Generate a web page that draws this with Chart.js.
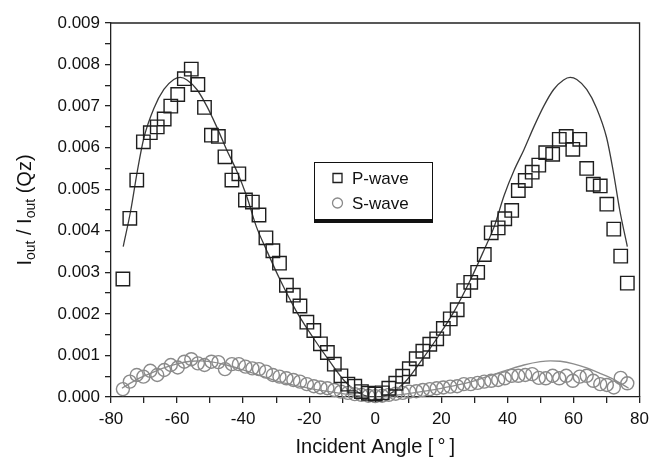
<!DOCTYPE html>
<html>
<head>
<meta charset="utf-8">
<script src="https://cdn.jsdelivr.net/npm/chart.js@4.4.1/dist/chart.umd.min.js"></script>
<style>
    html, body { margin: 0; padding: 0; background: #fff; }
    #wrap { width: 655px; height: 466px; position: relative; }
</style>
</head>
<body>
<div id="wrap"><canvas id="anguloChart"></canvas></div>
<script>
// Ángulos medidos (grados), comunes a las dos series
const angles = [
    -76.4, -74.3, -72.2, -70.2, -68.1, -66.0, -63.9, -61.9, -59.8, -57.8,
    -55.7, -53.7, -51.7, -49.6, -47.5, -45.5, -43.4, -41.3, -39.3, -37.2,
    -35.2, -33.1, -31.0, -29.0, -26.9, -24.8, -22.8, -20.7, -18.6, -16.6,
    -14.5, -12.4, -10.4, -8.3, -6.2, -4.2, -2.1, 0.0, 2.1, 4.1,
    6.2, 8.3, 10.3, 12.4, 14.4, 16.5, 18.6, 20.6, 22.7, 24.8,
    26.8, 28.9, 31.0, 33.0, 35.1, 37.2, 39.2, 41.3, 43.3, 45.4,
    47.5, 49.5, 51.6, 53.7, 55.7, 57.8, 59.8, 61.9, 64.0, 66.0,
    68.1, 70.1, 72.2, 74.3, 76.3
];

// P-wave (cuadrados)
const pWave = [
    0.00284, 0.00430, 0.00522, 0.00614, 0.00636, 0.00650, 0.00669, 0.00700, 0.00728, 0.00766,
    0.00789, 0.00752, 0.00697, 0.00630, 0.00627, 0.00578, 0.00522, 0.00537, 0.00474, 0.00469,
    0.00438, 0.00383, 0.00352, 0.00322, 0.00269, 0.00245, 0.00219, 0.00180, 0.00160, 0.00128,
    0.00107, 0.00079, 0.00051, 0.00031, 0.00026, 0.00013, 0.00009, 0.00007, 0.00010, 0.00021,
    0.00033, 0.00050, 0.00068, 0.00092, 0.00110, 0.00127, 0.00140, 0.00165, 0.00188, 0.00210,
    0.00256, 0.00276, 0.00300, 0.00343, 0.00395, 0.00407, 0.00429, 0.00449, 0.00497, 0.00521,
    0.00541, 0.00558, 0.00588, 0.00584, 0.00620, 0.00627, 0.00596, 0.00620, 0.00550, 0.00512,
    0.00508, 0.00464, 0.00404, 0.00339, 0.00274
];

// S-wave (círculos)
const sWave = [
    0.00019, 0.00037, 0.00053, 0.00049, 0.00063, 0.00053, 0.00065, 0.00077, 0.00071, 0.00085,
    0.00091, 0.00081, 0.00077, 0.00085, 0.00084, 0.00067, 0.00079, 0.00079, 0.00073, 0.00069,
    0.00067, 0.00061, 0.00053, 0.00049, 0.00045, 0.00041, 0.00037, 0.00031, 0.00026, 0.00023,
    0.00021, 0.00017, 0.00013, 0.00010, 0.00007, 0.00005, 0.00003, 0.00002, 0.00003, 0.00005,
    0.00008, 0.00010, 0.00013, 0.00014, 0.00017, 0.00019, 0.00021, 0.00023, 0.00025, 0.00026,
    0.00031, 0.00031, 0.00034, 0.00037, 0.00039, 0.00041, 0.00045, 0.00051, 0.00051, 0.00053,
    0.00055, 0.00046, 0.00045, 0.00051, 0.00045, 0.00051, 0.00039, 0.00049, 0.00051, 0.00039,
    0.00031, 0.00029, 0.00023, 0.00046, 0.00033
];

// Curva de ajuste P-wave
const pFitAngles = [
    -76.3, -74, -72, -70, -67, -64, -61, -59, -57, -54, -51, -48, -45, -42, -39, -36, -33, -29,
    -24, -19, -14, -9, -4, 0, 4, 9, 14, 19, 24, 29, 33, 36, 39, 42, 45, 48, 51, 54, 57, 59,
    61, 64, 67, 70, 72, 74, 76.3
];
const pFitValues = [
    0.00362, 0.00450, 0.00545, 0.00625, 0.00695, 0.00740, 0.00764, 0.00769, 0.00763, 0.00740,
    0.00700, 0.00650, 0.00595, 0.00545, 0.00485, 0.00410, 0.00355, 0.00285,
    0.00208, 0.00145, 0.00088, 0.00036, 0.00006, 0.00000, 0.00006, 0.00036, 0.00088, 0.00145,
    0.00208, 0.00285, 0.00355, 0.00410, 0.00485, 0.00545, 0.00595, 0.00650, 0.00700, 0.00740,
    0.00763, 0.00769, 0.00764, 0.00740, 0.00695, 0.00625, 0.00545, 0.00450, 0.00362
];

// Curva de ajuste S-wave
const sFitAngles = [
    -76.7, -72, -68, -64, -60, -56, -53, -50, -45, -40, -35, -30, -25, -20, -15, -10, -5,
    0, 5, 10, 15, 20, 25, 30, 35, 40, 45, 50, 53, 56, 60, 64, 68, 72, 76.7
];
const sFitValues = [
    0.00021, 0.00043, 0.00057, 0.00070, 0.00080, 0.00086, 0.00087, 0.00085, 0.00077, 0.00065,
    0.00052, 0.00039, 0.00029, 0.00021, 0.00014, 0.00008, 0.00003,
    0.00000, 0.00003, 0.00008, 0.00014, 0.00021, 0.00029, 0.00039, 0.00052, 0.00065, 0.00077,
    0.00085, 0.00087, 0.00086, 0.00080, 0.00070, 0.00057, 0.00043, 0.00021
];

const FONT = '"Liberation Sans", Arial, sans-serif';

function toPoints(xs, ys) {
    return xs.map((x, i) => ({ x: x, y: ys[i] }));
}

// Dibuja un texto con trozos normales y subíndices, centrado en 0
function drawParts(ctx, parts, big, small) {
    const fontOf = (p) => (p.sub ? small : big) + "px " + FONT;
    let total = 0;
    parts.forEach((p) => {
        ctx.font = fontOf(p);
        total += ctx.measureText(p.t).width;
    });
    let x = -total / 2;
    parts.forEach((p) => {
        ctx.font = fontOf(p);
        ctx.fillText(p.t, x, p.sub ? 6 : 0);
        x += ctx.measureText(p.t).width;
    });
}

// Marco, títulos de ejes y leyenda dibujados a mano
const extrasPlugin = {
    id: "extras",
    beforeDatasetsDraw(chart) {
        const { ctx, chartArea: a } = chart;
        ctx.save();
        ctx.strokeStyle = "#222";
        ctx.lineWidth = 1.3;
        ctx.beginPath();
        ctx.moveTo(a.left, a.top);
        ctx.lineTo(a.right, a.top);
        ctx.lineTo(a.right, a.bottom);
        ctx.stroke();
        ctx.restore();
    },
    afterDraw(chart) {
        const ctx = chart.ctx;
        const a = chart.chartArea;

        // título eje X
        ctx.save();
        ctx.fillStyle = "#111";
        ctx.textAlign = "left";
        ctx.textBaseline = "middle";
        ctx.translate((a.left + a.right) / 2, 447);
        drawParts(ctx, [{ t: "Incident Angle [\u2009°\u2009]", sub: false }], 20, 14);
        ctx.restore();

        // título eje Y con subíndices
        ctx.save();
        ctx.fillStyle = "#111";
        ctx.textAlign = "left";
        ctx.textBaseline = "middle";
        ctx.translate(25, (a.top + a.bottom) / 2);
        ctx.rotate(-Math.PI / 2);
        drawParts(ctx, [
            { t: "I", sub: false },
            { t: "out", sub: true },
            { t: " / I", sub: false },
            { t: "out", sub: true },
            { t: " (Qz)", sub: false },
        ], 20, 14);
        ctx.restore();

        // leyenda
        ctx.save();
        const box = { x: 314, y: 162, w: 118, h: 58 };
        ctx.strokeStyle = "#111";
        ctx.lineWidth = 1;
        ctx.strokeRect(box.x + 0.5, box.y + 0.5, box.w, box.h);
        ctx.fillStyle = "#111";
        ctx.fillRect(box.x, box.y + box.h - 1, box.w + 1, 4);

        ctx.font = "17px " + FONT;
        ctx.textBaseline = "middle";
        ctx.textAlign = "left";
        const items = chart.data.datasets.filter((d) => d.inLegend);
        items.forEach((d, i) => {
            const cy = box.y + 16 + i * 25;
            ctx.strokeStyle = d.borderColor;
            ctx.lineWidth = 1.3;
            ctx.beginPath();
            if (d.pointStyle === "rect") {
                ctx.rect(333, cy - 4.5, 9, 9);
            } else {
                ctx.arc(337.5, cy, 5, 0, Math.PI * 2);
            }
            ctx.stroke();
            ctx.fillStyle = "#111";
            ctx.fillText(d.label, 352, cy + 1);
        });
        ctx.restore();
    },
};

function initIncidenceChart() {
    const ctx = document.getElementById("anguloChart").getContext("2d");
    new Chart(ctx, {
        type: "scatter",
        data: {
            datasets: [
                {
                    label: "P-wave",
                    inLegend: true,
                    data: toPoints(angles, pWave),
                    pointStyle: "rect",
                    pointRadius: 9.5,
                    borderColor: "#1e1e1e",
                    backgroundColor: "rgba(0,0,0,0)",
                    borderWidth: 1.4,
                    clip: false,
                },
                {
                    label: "S-wave",
                    inLegend: true,
                    data: toPoints(angles, sWave),
                    pointStyle: "circle",
                    pointRadius: 6.5,
                    borderColor: "#8a8a8a",
                    backgroundColor: "rgba(0,0,0,0)",
                    borderWidth: 1.4,
                    clip: false,
                },
                {
                    label: "P fit",
                    data: toPoints(pFitAngles, pFitValues),
                    showLine: true,
                    pointRadius: 0,
                    borderColor: "#3a3a3a",
                    borderWidth: 1.3,
                    cubicInterpolationMode: "monotone",
                },
                {
                    label: "S fit",
                    data: toPoints(sFitAngles, sFitValues),
                    showLine: true,
                    pointRadius: 0,
                    borderColor: "#8c8c8c",
                    borderWidth: 1.3,
                    cubicInterpolationMode: "monotone",
                },
            ],
        },
        options: {
            responsive: true,
            maintainAspectRatio: false,
            animation: false,
            devicePixelRatio: 1,
            events: [],
            layout: {
                padding: { left: 0, right: 12, top: 23, bottom: 0 },
            },
            plugins: {
                legend: { display: false },
                tooltip: { enabled: false },
            },
            scales: {
                x: {
                    type: "linear",
                    min: -80,
                    max: 80,
                    afterFit: (s) => { s.height = 69; },
                    border: { display: true, color: "#222", width: 1.3 },
                    grid: { drawOnChartArea: false, drawTicks: true, tickLength: 6, color: "#222", lineWidth: 1.3 },
                    ticks: {
                        stepSize: 10,
                        autoSkip: false,
                        maxRotation: 0,
                        padding: 6,
                        color: "#111",
                        font: { family: FONT, size: 17 },
                        callback: (v) => (v % 20 === 0 ? String(v) : ""),
                    },
                },
                y: {
                    type: "linear",
                    min: 0,
                    max: 0.009,
                    afterFit: (s) => { s.width = 111; },
                    border: { display: true, color: "#222", width: 1.3 },
                    grid: { drawOnChartArea: false, drawTicks: true, tickLength: 6, color: "#222", lineWidth: 1.3 },
                    ticks: {
                        stepSize: 0.0005,
                        autoSkip: false,
                        padding: 5,
                        color: "#111",
                        font: { family: FONT, size: 17 },
                        callback: (v) => (Math.round(v * 10000) % 10 === 0 ? v.toFixed(3) : ""),
                    },
                },
            },
        },
        plugins: [extrasPlugin],
    });
}

initIncidenceChart();
</script>
</body>
</html>
